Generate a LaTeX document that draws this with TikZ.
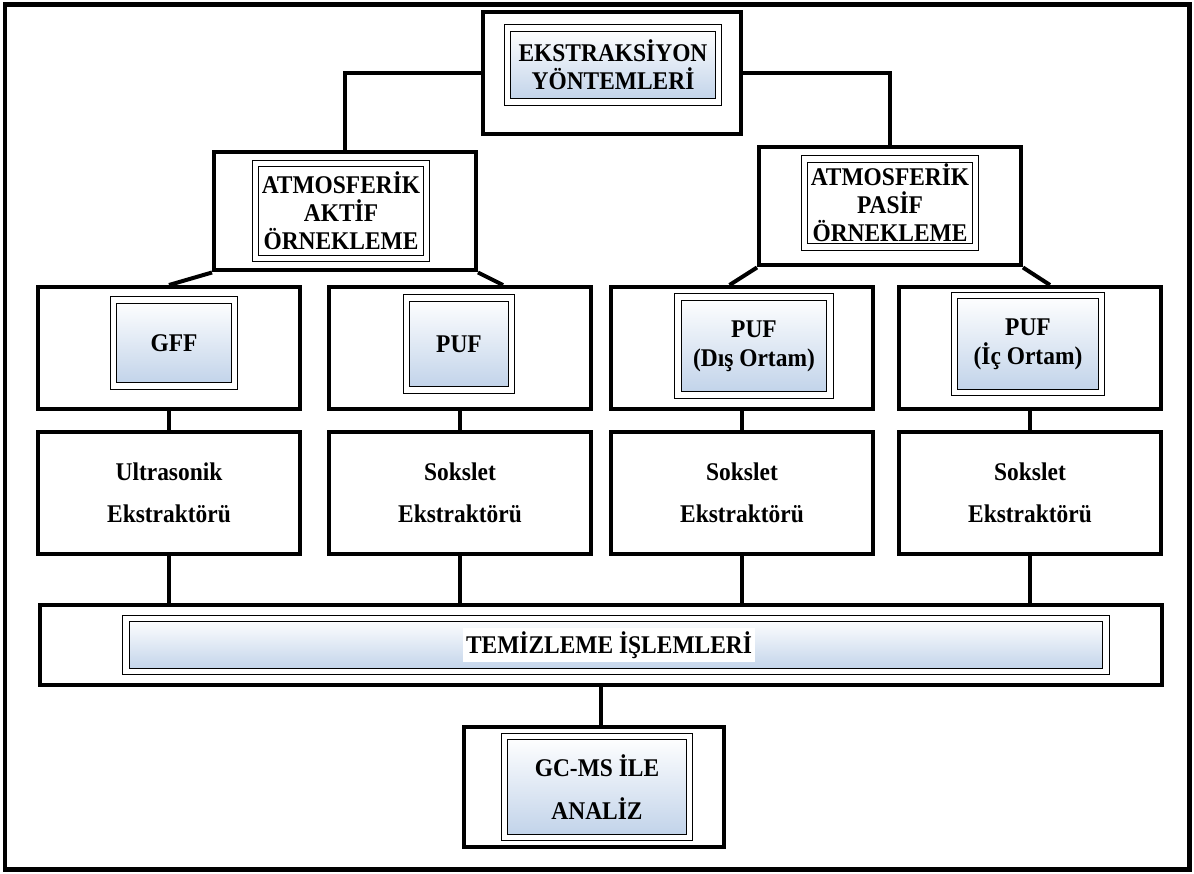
\documentclass[tikz,border=0pt]{standalone}
\usepackage{fontspec}
\setmainfont{Liberation Serif}[FakeStretch=0.92]
\usepackage{tikz}
\usetikzlibrary{positioning}
\definecolor{steel}{RGB}{192,210,233}

\begin{document}
\begin{tikzpicture}[x=0.02cm, y=-0.02cm,
    font=\fontsize{14.5}{16}\selectfont\bfseries,
    box/.style={draw, line width=0.08cm, minimum width=5.26cm, minimum height=2.44cm, inner sep=0pt, align=center},
    tag/.style={draw, double, line width=0.6pt, double distance=0.11cm, top color=white, bottom color=steel, inner sep=0pt, align=center},
    plaintag/.style={draw, double, line width=0.6pt, double distance=0.11cm, fill=white, inner sep=0pt, align=center},
    roomy/.style={font=\fontsize{14.5}{24}\selectfont\bfseries},
    link/.style={line width=0.08cm}]
    \useasboundingbox (0, 0) rectangle (1194, 874);
    \draw [line width=0.1cm] (5, 5) rectangle (1189, 869);

    % top
    \node [box, minimum width=5.18cm] (ext) at (612, 73) {};
    \node [tag, minimum width=4.22cm, minimum height=1.48cm] (exttag) at (613, 65) {EKSTRAKSİYON\\YÖNTEMLERİ};

    % sampling
    \node [box, minimum width=5.24cm, minimum height=2.38cm] (aktif) at (345, 211) {};
    \node [plaintag, minimum width=3.42cm, minimum height=1.9cm] (aktiftag) at (341, 211) {ATMOSFERİK\\AKTİF\\ÖRNEKLEME};
    \node [box, minimum width=5.24cm, minimum height=2.38cm] (pasif) at (890, 206) {};
    \node [plaintag, minimum width=3.42cm, minimum height=1.76cm] (pasiftag) at (890, 203) {ATMOSFERİK\\PASİF\\ÖRNEKLEME};

    % samplers
    \node [box] (gff) at (169, 348) {};
    \node [tag, minimum width=2.42cm, minimum height=1.72cm] (gfftag) at (174, 343) {GFF};
    \node [box] (puf) at (460, 348) {};
    \node [tag, minimum width=2.1cm, minimum height=1.84cm] (puftag) at (459, 344) {PUF};
    \node [box] (dis) at (742, 348) {};
    \node [tag, minimum width=3.04cm, minimum height=1.96cm, font=\fontsize{14.5}{16.5}\selectfont\bfseries] (distag) at (754, 346) {PUF\\(Dış Ortam)};
    \node [box] (ic) at (1030, 348) {};
    \node [tag, minimum width=2.94cm, minimum height=1.94cm, font=\fontsize{14.5}{16.5}\selectfont\bfseries] (ictag) at (1028, 344) {PUF\\(İç Ortam)};

    % extractors
    \node [box, minimum height=2.46cm, roomy] (ult) at (169, 493) {Ultrasonik\\Ekstraktörü};
    \node [box, minimum height=2.46cm, roomy] (soks) at (460, 493) {Sokslet\\Ekstraktörü};
    \node [box, minimum height=2.46cm, roomy] (soksdis) at (742, 493) {Sokslet\\Ekstraktörü};
    \node [box, minimum height=2.46cm, roomy] (soksic) at (1030, 493) {Sokslet\\Ekstraktörü};

    % cleanup and analysis
    \node [box, minimum width=22.44cm, minimum height=1.62cm] (tem) at (601, 645) {};
    \node [tag, minimum width=19.6cm, minimum height=1.06cm] (temtag) at (616, 645) {};
    \node [fill=white, inner sep=2pt] (temtext) at (609, 645) {TEMİZLEME İŞLEMLERİ};
    \node [box, minimum width=5.22cm, minimum height=2.42cm] (gc) at (594, 787) {};
    \node [tag, minimum width=3.7cm, minimum height=2.02cm, roomy] (gctag) at (597, 787) {GC-MS İLE\\ANALİZ};

    \draw [link] (ext.west) -| (aktif.north);
    \draw [link] (ext.east) -| (pasif.north);
    \draw [link] (aktif.south west) -- (gff.north);
    \draw [link] (aktif.south east) -- ([xshift=0.86cm] puf.north);
    \draw [link] (pasif.south west) -- ([xshift=-0.25cm] dis.north);
    \draw [link] (pasif.south east) -- ([xshift=0.4cm] ic.north);

    \draw [link] (gff) -- (ult);
    \draw [link] (puf) -- (soks);
    \draw [link] (dis) -- (soksdis);
    \draw [link] (ic) -- (soksic);

    \draw [link] (ult.south) -- (ult.south |- tem.north);
    \draw [link] (soks.south) -- (soks.south |- tem.north);
    \draw [link] (soksdis.south) -- (soksdis.south |- tem.north);
    \draw [link] (soksic.south) -- (soksic.south |- tem.north);
    \draw [link] (tem.south) -- (tem.south |- gc.north);
\end{tikzpicture}
\end{document}
